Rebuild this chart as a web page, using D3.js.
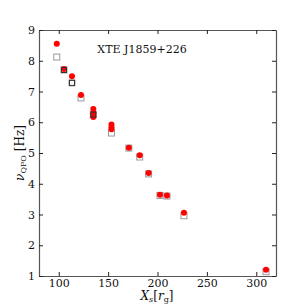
<!DOCTYPE html>
<html><head><meta charset="utf-8">
<script src="https://cdn.jsdelivr.net/npm/d3@7"></script>
<style>body{margin:0;background:#fff}svg{display:block}text{font-family:"DejaVu Serif",serif}</style>
</head><body><svg id="c" width="307" height="307"></svg>
<script>
const xsCircle = [98, 105.3, 113.4, 122.5, 135, 135, 135, 153.4, 153.4, 153.4, 171, 182, 191, 202.5, 209.6, 226.8, 309.9];
const nuCircle = [8.55, 7.73, 7.5, 6.89, 6.43, 6.3, 6.17, 5.93, 5.84, 5.77, 5.17, 4.93, 4.35, 3.64, 3.62, 3.06, 1.2];
const xsSquare = [98, 105.3, 113.4, 122.5, 135, 153.4, 171, 182, 191, 202.5, 209.6, 226.8, 309.9];
const nuSquare = [8.12, 7.7, 7.28, 6.79, 6.25, 5.65, 5.16, 4.87, 4.32, 3.62, 3.6, 2.96, 1.14];
const squareDark = [false, true, true, false, true, false, false, false, false, false, false, false, false];
const xTicks = [100, 150, 200, 250, 300];
const yTicks = [1, 2, 3, 4, 5, 6, 7, 8, 9];
const title = "XTE J1859+226";

const svg = d3.select("#c");
const L = 39, R = 276, T = 30, B = 276;
const x = d3.scaleLinear().domain([80, 320]).range([L, R]);
const y = d3.scaleLinear().domain([1, 9]).range([B, T]);
const axCol = "#555";

// squares (behind)
svg.append("g").selectAll("rect").data(xsSquare.map((d, i) => [d, nuSquare[i], squareDark[i]]))
  .join("rect")
  .attr("x", d => x(d[0]) - 3).attr("y", d => y(d[1]) - 3)
  .attr("width", 6).attr("height", 6)
  .attr("fill", "none").attr("stroke", "#999").attr("stroke-width", 1);

// circles
svg.append("g").selectAll("circle").data(xsCircle.map((d, i) => [d, nuCircle[i]]))
  .join("circle")
  .attr("cx", d => x(d[0])).attr("cy", d => y(d[1])).attr("r", 3)
  .attr("fill", "#f00");

// dark squares on top
svg.append("g").selectAll("rect").data(xsSquare.map((d, i) => [d, nuSquare[i], squareDark[i]]).filter(d => d[2]))
  .join("rect")
  .attr("x", d => x(d[0]) - 2.5).attr("y", d => y(d[1]) - 2.5)
  .attr("width", 5).attr("height", 5)
  .attr("fill", "none").attr("stroke", "#333").attr("stroke-width", 1);

// axes
const tk = 4;
const ax = d3.axisBottom(x).tickValues(xTicks).tickSizeInner(-tk).tickSizeOuter(0).tickPadding(3);
const gx = svg.append("g").attr("transform", `translate(0,${B})`).call(ax);
const gxt = svg.append("g").attr("transform", `translate(0,${T})`).call(d3.axisTop(x).tickValues(xTicks).tickSizeInner(-tk).tickSizeOuter(0).tickFormat(""));
const gy = svg.append("g").attr("transform", `translate(${L},0)`).call(d3.axisLeft(y).tickValues(yTicks).tickSizeInner(-tk).tickSizeOuter(0).tickPadding(4));
const gyr = svg.append("g").attr("transform", `translate(${R},0)`).call(d3.axisRight(y).tickValues(yTicks).tickSizeInner(-tk).tickSizeOuter(0).tickFormat(""));
[gx, gxt, gy, gyr].forEach(g => {
  g.select(".domain").attr("stroke", axCol).attr("stroke-width", 1.2);
  g.selectAll(".tick line").attr("stroke", "#222").attr("stroke-width", 1);
  g.selectAll("text").attr("font-family", "DejaVu Serif").attr("font-size", 11).attr("fill", "#111");
});

// title
svg.append("text").attr("x", 142).attr("y", 53).attr("text-anchor", "middle")
  .attr("font-size", 11).attr("fill", "#111").text(title);

// x label
const xl = svg.append("text").attr("x", 157).attr("y", 300).attr("text-anchor", "middle")
  .attr("font-size", 12).attr("fill", "#111");
xl.append("tspan").attr("font-style", "italic").text("X");
xl.append("tspan").attr("font-style", "italic").attr("font-size", 8).attr("dy", 2).text("s");
xl.append("tspan").attr("dy", -2).text("[");
xl.append("tspan").attr("font-style", "italic").text("r");
xl.append("tspan").attr("font-size", 8).attr("dy", 2).text("g");
xl.append("tspan").attr("dy", -2).text("]");

// y label
const yl = svg.append("text").attr("transform", "translate(24,153) rotate(-90)").attr("text-anchor", "middle")
  .attr("font-size", 12).attr("fill", "#111");
yl.append("tspan").attr("font-style", "italic").text("ν");
yl.append("tspan").attr("font-size", 8).attr("dy", 2).text("QPO");
yl.append("tspan").attr("dy", -2).text(" [Hz]");
</script></body></html>
